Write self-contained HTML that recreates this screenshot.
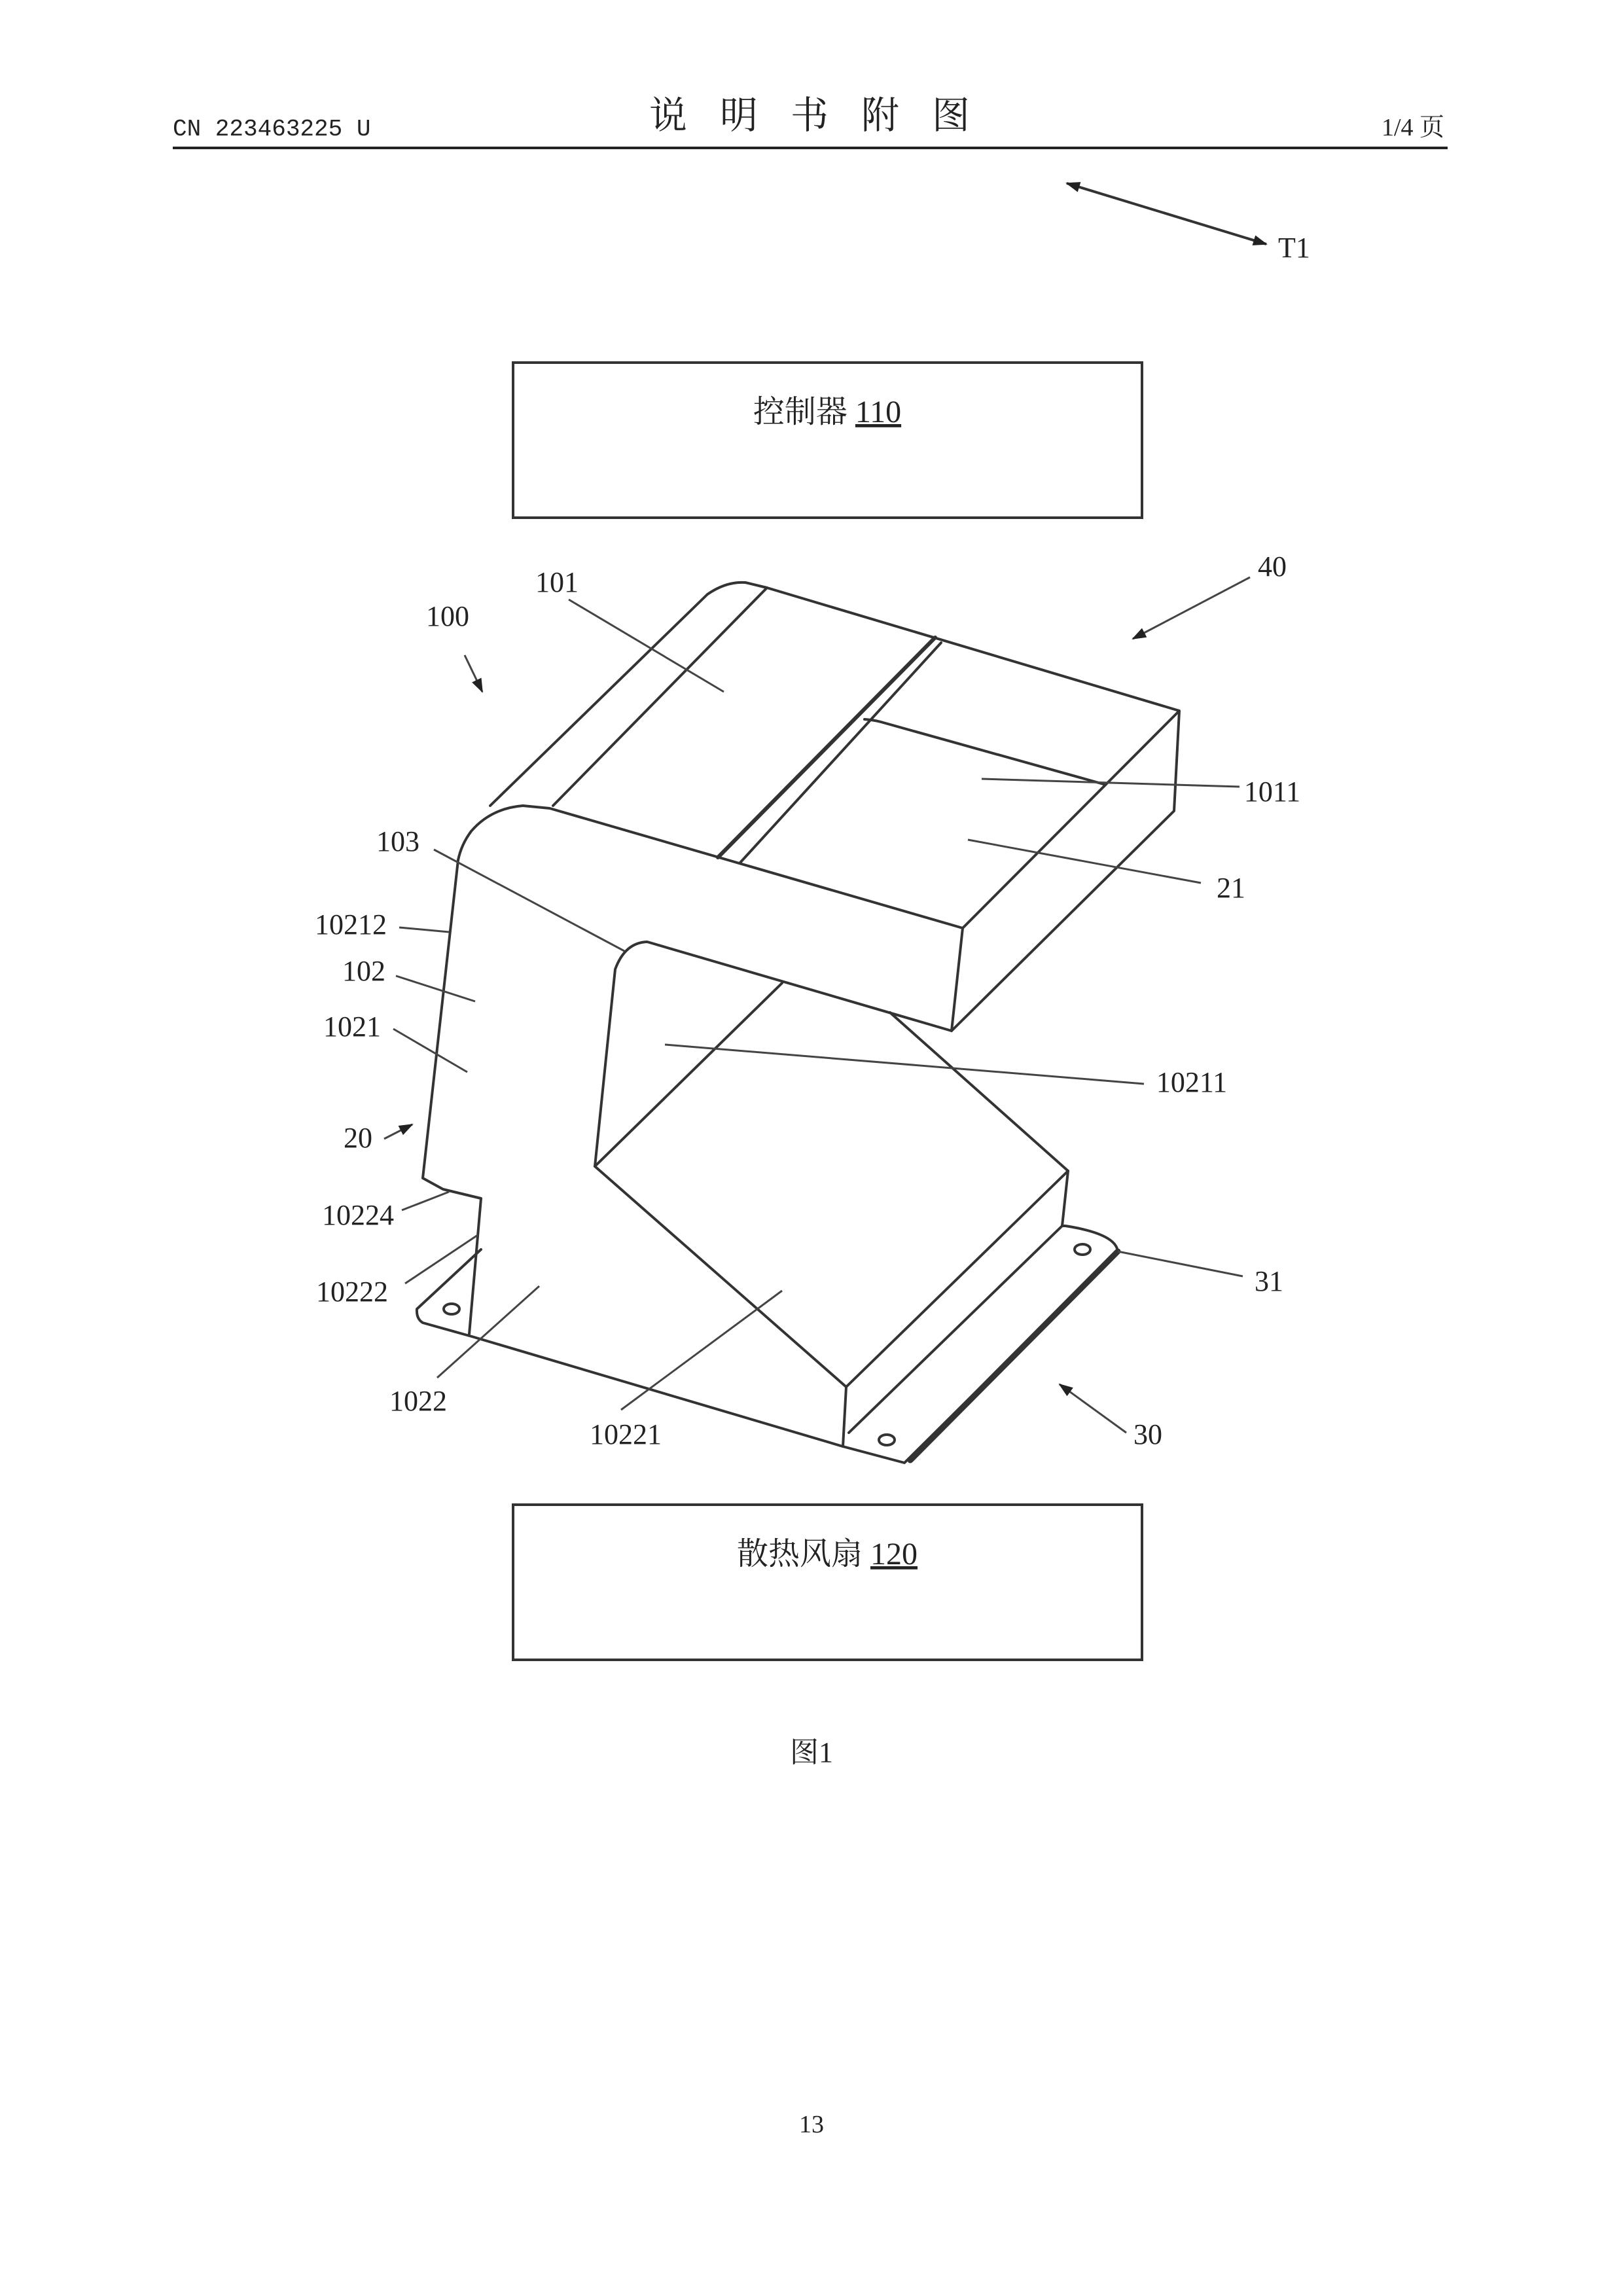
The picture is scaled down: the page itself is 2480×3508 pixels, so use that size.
<!DOCTYPE html>
<html><head><meta charset="utf-8"><style>
html,body{margin:0;padding:0;background:#fff}
svg{display:block}
text{font-family:"Liberation Serif","Noto Serif CJK SC","Noto Sans CJK SC",serif;fill:#222}
</style></head><body>
<svg width="2480" height="3508" viewBox="0 0 2480 3508" xmlns="http://www.w3.org/2000/svg">
<defs>
<marker id="ah2" markerWidth="22" markerHeight="16" refX="20" refY="8" orient="auto-start-reverse" markerUnits="userSpaceOnUse" viewBox="0 0 22 16">
<path d="M0,0 L22,8 L0,16 z" fill="#222"/></marker>
</defs>
<!-- header -->
<text x="264" y="207" font-size="36" style="font-family:'Liberation Mono',monospace">CN 223463225 U</text>
<text x="1262" y="196" font-size="58" text-anchor="middle" style="font-family:'Noto Serif CJK SC','Noto Sans CJK SC',serif;letter-spacing:50px">说明书附图</text>
<text x="2207" y="207" font-size="38" text-anchor="end">1/4 页</text>
<line x1="264" y1="226" x2="2212" y2="226" stroke="#222" stroke-width="4"/>
<!-- T1 -->
<line x1="1630" y1="280" x2="1935" y2="373" stroke="#333" stroke-width="4" marker-end="url(#ah2)" marker-start="url(#ah2)"/>
<text x="1953" y="393" font-size="44">T1</text>
<!-- boxes -->
<rect x="784" y="554" width="961" height="237" fill="none" stroke="#333" stroke-width="4"/>
<text x="1264" y="645" font-size="48" text-anchor="middle">控制器 <tspan text-decoration="underline">110</tspan></text>
<rect x="784" y="2299" width="961" height="237" fill="none" stroke="#333" stroke-width="4"/>
<text x="1264" y="2390" font-size="48" text-anchor="middle">散热风扇 <tspan text-decoration="underline">120</tspan></text>
<text x="1240" y="2692" font-size="44" text-anchor="middle">图1</text>
<text x="1240" y="3258" font-size="38" text-anchor="middle">13</text>
<!-- drawing -->
<g fill="none" stroke="#333" stroke-width="4" stroke-linejoin="round" stroke-linecap="round">
<path d="M749,1231 L1081,908 Q1110,888 1139,890 L1172,898 L1802,1086 L1794,1239 L1454,1575 L1471,1418 L1802,1086"/>
<path d="M1172,898 L845,1231"/>
<path d="M700,1314 Q705,1290 720,1270 Q750,1235 799,1231 L840,1235 L1471,1418"/>
<path d="M1429,974 L1097,1310" stroke-width="6"/>
<path d="M1438,982 L1131,1318"/>
<path d="M1321,1099 Q1335,1100 1346,1103 L1686,1198"/>
<path d="M700,1314 L646,1800 L677,1817 L735,1831 L717,2038"/>
<path d="M735,1909 L637,2000 Q636,2015 646,2021 L721,2042 L1288,2210 L1382,2235 L1708,1912 Q1705,1885 1628,1873 L1623,1873"/>
<path d="M1391,2231 L1708,1912" stroke-width="9"/>
<path d="M909,1782 L940,1481 Q955,1440 989,1439 L1454,1575"/>
<path d="M1195,1502 L909,1782 L1293,2119 L1632,1789 L1360,1547"/>
<path d="M1293,2119 L1288,2210"/>
<path d="M1632,1789 L1623,1873"/>
<path d="M1297,2189 L1623,1873"/>
<ellipse cx="690" cy="2000" rx="12" ry="8"/>
<ellipse cx="1654" cy="1909" rx="12" ry="8"/>
<ellipse cx="1355" cy="2200" rx="12" ry="8"/>
</g>
<g stroke="#444" stroke-width="3" fill="none">
<line x1="869" y1="916" x2="1106" y2="1057"/>
<line x1="1500" y1="1190" x2="1894" y2="1202"/>
<line x1="1479" y1="1283" x2="1835" y2="1349"/>
<line x1="663" y1="1298" x2="954" y2="1453"/>
<line x1="610" y1="1417" x2="686" y2="1424"/>
<line x1="605" y1="1491" x2="726" y2="1530"/>
<line x1="601" y1="1572" x2="714" y2="1638"/>
<line x1="614" y1="1849" x2="686" y2="1821"/>
<line x1="619" y1="1961" x2="730" y2="1887"/>
<line x1="668" y1="2105" x2="824" y2="1965"/>
<line x1="949" y1="2154" x2="1195" y2="1972"/>
<line x1="1016" y1="1596" x2="1748" y2="1656"/>
<line x1="1708" y1="1912" x2="1899" y2="1950"/>
<line x1="710" y1="1001" x2="737" y2="1057" marker-end="url(#ah2)"/>
<line x1="1910" y1="882" x2="1731" y2="976" marker-end="url(#ah2)"/>
<line x1="587" y1="1740" x2="630" y2="1718" marker-end="url(#ah2)"/>
<line x1="1721" y1="2189" x2="1619" y2="2115" marker-end="url(#ah2)"/>
</g>
<g font-size="44">
<text x="851" y="904" text-anchor="middle">101</text>
<text x="684" y="956" text-anchor="middle">100</text>
<text x="1944" y="880" text-anchor="middle">40</text>
<text x="1944" y="1224" text-anchor="middle">1011</text>
<text x="1881" y="1371" text-anchor="middle">21</text>
<text x="608" y="1300" text-anchor="middle">103</text>
<text x="536" y="1427" text-anchor="middle">10212</text>
<text x="556" y="1498" text-anchor="middle">102</text>
<text x="538" y="1583" text-anchor="middle">1021</text>
<text x="547" y="1753" text-anchor="middle">20</text>
<text x="547" y="1871" text-anchor="middle">10224</text>
<text x="538" y="1988" text-anchor="middle">10222</text>
<text x="639" y="2155" text-anchor="middle">1022</text>
<text x="956" y="2206" text-anchor="middle">10221</text>
<text x="1821" y="1668" text-anchor="middle">10211</text>
<text x="1939" y="1972" text-anchor="middle">31</text>
<text x="1754" y="2206" text-anchor="middle">30</text>
</g>
</svg>
</body></html>
